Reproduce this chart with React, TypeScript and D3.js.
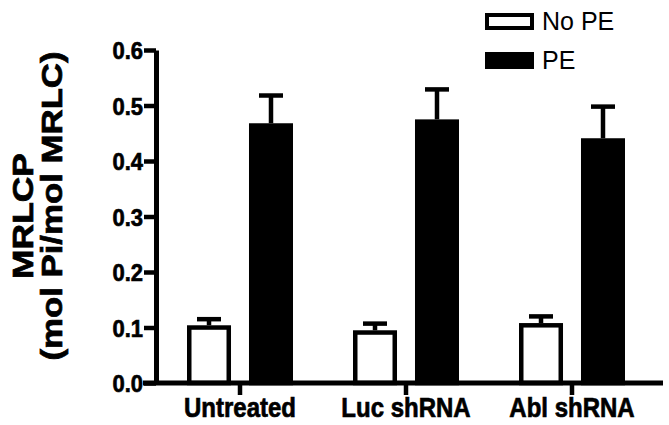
import React, { useEffect, useRef } from 'react';
import * as d3 from 'd3';

const categories = ['Untreated', 'Luc shRNA', 'Abl shRNA'];
const series = ['No PE', 'PE'];
const noPE = [0.104, 0.095, 0.108];
const noPEErr = [0.011, 0.012, 0.012];
const pe = [0.468, 0.475, 0.441];
const peErr = [0.05, 0.054, 0.057];
const yTicks = [0, 0.1, 0.2, 0.3, 0.4, 0.5, 0.6];

const W = 669;
const H = 425;
const FONT = '"Liberation Sans", Arial, sans-serif';

export default function App() {
  const svgRef = useRef<SVGSVGElement>(null);

  useEffect(() => {
    if (!svgRef.current) return;
    const svg = d3.select(svgRef.current);
    svg.selectAll('*').remove();

    const axisX = 156;
    const y = d3.scaleLinear().domain([0, 0.6]).range([383, 50]);
    const x = d3.scaleBand().domain(categories).range([157, 655]).padding(0);
    const inner = d3.scaleBand().domain(series).range([-53, 53]).paddingInner(0.29).paddingOuter(0);

    const rows = categories.map((c, i) => [
      { cat: c, s: 'No PE', v: noPE[i], e: noPEErr[i] },
      { cat: c, s: 'PE', v: pe[i], e: peErr[i] },
    ]).flat();

    const g = svg.append('g');
    const sw = 4.5;

    // error bars (upward only)
    rows.forEach((d) => {
      const cx = (x(d.cat) ?? 0) + x.bandwidth() / 2 + (inner(d.s) ?? 0) + inner.bandwidth() / 2;
      g.append('line')
        .attr('x1', cx).attr('x2', cx)
        .attr('y1', y(d.v)).attr('y2', y(d.v + d.e))
        .attr('stroke', '#000').attr('stroke-width', sw);
      g.append('line')
        .attr('x1', cx - 12).attr('x2', cx + 12)
        .attr('y1', y(d.v + d.e)).attr('y2', y(d.v + d.e))
        .attr('stroke', '#000').attr('stroke-width', sw);
    });

    // bars
    g.selectAll('rect.bar')
      .data(rows)
      .join('rect')
      .attr('class', 'bar')
      .attr('x', (d) => (x(d.cat) ?? 0) + x.bandwidth() / 2 + (inner(d.s) ?? 0) + sw / 2)
      .attr('y', (d) => y(d.v) + sw / 2)
      .attr('width', inner.bandwidth() - sw)
      .attr('height', (d) => y(0) - y(d.v) - sw / 2)
      .attr('fill', (d) => (d.s === 'PE' ? '#000' : '#fff'))
      .attr('stroke', '#000')
      .attr('stroke-width', sw);

    // y axis
    const yAxis = svg.append('g')
      .attr('transform', `translate(${axisX},0)`)
      .call(d3.axisLeft(y).tickValues(yTicks).tickSize(12).tickSizeOuter(0).tickFormat(d3.format('.1f')));
    yAxis.select('.domain').attr('stroke', '#000').attr('stroke-width', 5);
    yAxis.selectAll('.tick line').attr('stroke', '#000').attr('stroke-width', 4.5);
    yAxis.selectAll('.tick text')
      .attr('x', 0)
      .attr('y', 0)
      .attr('dy', '0.36em')
      .attr('transform', 'translate(-13,0) scale(1,1.12)')
      .attr('fill', '#000')
      .attr('stroke', '#000')
      .attr('stroke-width', 0.6)
      .attr('font-family', FONT)
      .attr('font-weight', 'bold')
      .attr('font-size', 22);

    // x axis
    svg.append('line')
      .attr('x1', 143).attr('x2', 663)
      .attr('y1', y(0)).attr('y2', y(0))
      .attr('stroke', '#000').attr('stroke-width', 5);
    const xAxis = svg.append('g')
      .attr('transform', `translate(0,${y(0)})`)
      .call(d3.axisBottom(x).tickSize(12).tickSizeOuter(0));
    xAxis.select('.domain').remove();
    xAxis.selectAll('.tick line').attr('stroke', '#000').attr('stroke-width', 4.5);
    xAxis.selectAll('.tick text')
      .attr('y', 0)
      .attr('dy', 0)
      .attr('transform', 'translate(0,34) scale(1,1.17)')
      .attr('fill', '#000')
      .attr('stroke', '#000')
      .attr('stroke-width', 0.6)
      .attr('font-family', FONT)
      .attr('font-weight', 'bold')
      .attr('font-size', 24);

    // y axis title (stretched along its length like the original)
    svg.append('text')
      .attr('transform', 'translate(33,216) rotate(-90) scale(1.18,1)')
      .attr('text-anchor', 'middle')
      .attr('fill', '#000')
      .attr('stroke', '#000')
      .attr('stroke-width', 0.7)
      .attr('font-family', FONT)
      .attr('font-weight', 'bold')
      .attr('font-size', 30)
      .text('MRLCP');
    svg.append('text')
      .attr('transform', 'translate(62,206) rotate(-90) scale(1.2,1)')
      .attr('text-anchor', 'middle')
      .attr('fill', '#000')
      .attr('stroke', '#000')
      .attr('stroke-width', 0.7)
      .attr('font-family', FONT)
      .attr('font-weight', 'bold')
      .attr('font-size', 29)
      .text('(mol Pi/mol MRLC)');

    // legend
    const legend = svg.append('g');
    series.forEach((s, i) => {
      const ly = 13 + i * 39;
      legend.append('rect')
        .attr('x', 487).attr('y', ly + 2)
        .attr('width', 45).attr('height', 13)
        .attr('fill', s === 'PE' ? '#000' : '#fff')
        .attr('stroke', '#000').attr('stroke-width', 4);
      legend.append('text')
        .attr('x', 542).attr('y', ly + 17)
        .attr('fill', '#000')
        .attr('font-family', FONT)
        .attr('font-size', 25)
        .text(s);
    });
  }, []);

  return (
    <div style={{ position: 'absolute', left: 0, top: 0 }}>
      <svg ref={svgRef} width={W} height={H} style={{ display: 'block', background: '#fff' }} />
    </div>
  );
}
